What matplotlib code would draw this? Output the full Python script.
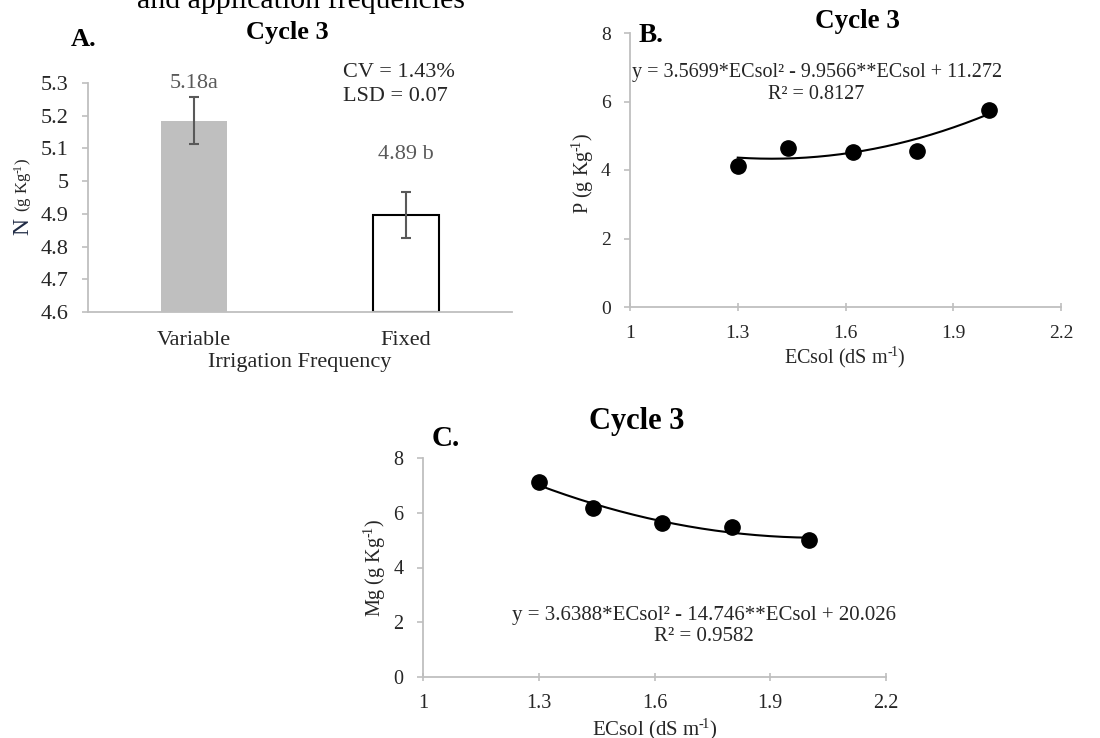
import numpy as np
import matplotlib
matplotlib.use("Agg")
import matplotlib.pyplot as plt
from matplotlib.ticker import FuncFormatter

plt.rcParams["font.family"] = ["Liberation Serif", "DejaVu Serif"]
plt.rcParams["mathtext.fontset"] = "custom"
plt.rcParams["mathtext.rm"] = "Liberation Serif"
plt.rcParams["mathtext.it"] = "Liberation Serif:italic"
plt.rcParams["mathtext.bf"] = "Liberation Serif:bold"

# panel A: N by irrigation frequency
freq_labels = ["Variable", "Fixed"]
n_means = [5.185, 4.896]
n_err = [0.072, 0.070]
n_letters = ["5.18a", "4.89 b"]

# panels B and C: P and Mg vs ECsol
ec_sol = [1.30, 1.44, 1.62, 1.80, 2.00]
p_vals = [4.13, 4.65, 4.54, 4.55, 5.75]
mg_vals = [7.11, 6.17, 5.63, 5.49, 5.01]
p_coef = [3.5699, -9.9566, 11.272]
mg_coef = [3.6388, -14.746, 20.026]

W, H = 1100, 738
AXIS_GRAY = "#BFBFBF"
TXT = "#262626"
SUP = "$^{\u2010\\!1}$"   # short hyphen superscript, as in the source figure
fig = plt.figure(figsize=(W / 100, H / 100), dpi=100)


def px(x, y):
    return x / W, 1 - y / H


def add_axes(l, t, r, b):
    return fig.add_axes([l / W, 1 - b / H, (r - l) / W, (b - t) / H])


def style_axes(ax, xdir="out"):
    for s in ("top", "right"):
        ax.spines[s].set_visible(False)
    for s in ("left", "bottom"):
        ax.spines[s].set_color(AXIS_GRAY)
        ax.spines[s].set_linewidth(1.3)
    ax.tick_params(axis="y", direction="out", color=AXIS_GRAY, length=4, width=1.2, labelcolor=TXT, pad=10)
    ax.tick_params(axis="x", direction=xdir, color=AXIS_GRAY, length=6, width=1.2, labelcolor=TXT)


gfmt = FuncFormatter(lambda v, p: f"{v:g}")

# partially cut caption line at the very top (cut in the source too)
fig.text(*px(137, 8), "and application frequencies", fontsize=21.5, va="baseline", ha="left", color="black")

# ---------------- A ----------------
axA = add_axes(88, 83, 512, 312)
xpos = np.arange(len(freq_labels))
axA.bar(xpos[0], n_means[0] - 4.6, bottom=4.6, width=0.31, color="#BFBFBF", edgecolor="none", zorder=2)
axA.bar(xpos[1], n_means[1] - 4.6, bottom=4.6, width=0.31, color="white", edgecolor="black", linewidth=1.5, zorder=2)
axA.errorbar(xpos, n_means, yerr=n_err, fmt="none", ecolor="#595959", elinewidth=1.5, capsize=3.5, capthick=1.5, zorder=3)
axA.set_xlim(-0.5, 1.5)
axA.set_ylim(4.6, 5.3)
axA.set_yticks(np.arange(4.6, 5.31, 0.1))
axA.yaxis.set_major_formatter(gfmt)
axA.set_xticks(xpos)
axA.set_xticklabels(freq_labels)
style_axes(axA)
axA.tick_params(axis="x", length=0, pad=14, labelsize=16)
axA.tick_params(axis="y", labelsize=16)
for i, (lab, off) in enumerate(zip(n_letters, [3, 20])):
    axA.annotate(lab, xy=(xpos[i], n_means[i] + n_err[i]), xytext=(0, off), textcoords="offset points",
                 ha="center", va="bottom", fontsize=16, color="#595959", annotation_clip=False)
axA.text(0.601, 1.048, "CV = 1.43%", transform=axA.transAxes, fontsize=16, va="center", ha="left", color=TXT)
axA.text(0.601, 0.939, "LSD = 0.07", transform=axA.transAxes, fontsize=16, va="center", ha="left", color=TXT)
fig.text(*px(300, 362), "Irrigation Frequency", fontsize=16, ha="center", va="center", color=TXT)
fig.text(*px(23, 227), "N", fontsize=17, rotation=90, ha="center", va="center", color="#1F2A44")
fig.text(*px(23, 185), "(g Kg" + SUP + ")", fontsize=12, rotation=90, ha="center", va="center", color=TXT)
fig.text(*px(287, 32), "Cycle 3", fontsize=19, fontweight="bold", ha="center", va="center")
fig.text(*px(84, 40), "A.", fontsize=19, fontweight="bold", ha="center", va="center")

# ---------------- B ----------------
axB = add_axes(630, 33, 1061, 307)
xs = np.linspace(min(ec_sol), max(ec_sol), 200)
axB.plot(xs, np.polyval(p_coef, xs), color="black", lw=1.5, zorder=2)
axB.plot(ec_sol, p_vals, "o", color="black", ms=11, zorder=3)
axB.set_xlim(1, 2.2)
axB.set_ylim(0, 8)
axB.set_xticks([1, 1.3, 1.6, 1.9, 2.2])
axB.set_yticks([0, 2, 4, 6, 8])
axB.xaxis.set_major_formatter(gfmt)
style_axes(axB, xdir="inout")
axB.tick_params(labelsize=14)
axB.tick_params(axis="x", pad=10)
axB.text(0.433, 0.855, "y = 3.5699*ECsol² - 9.9566**ECsol + 11.272", transform=axB.transAxes,
         fontsize=14.5, ha="center", va="center", color=TXT)
axB.text(0.433, 0.775, "R² = 0.8127", transform=axB.transAxes, fontsize=14.5, ha="center", va="center", color=TXT)
fig.text(*px(845, 357), "ECsol (dS m" + SUP + ")", fontsize=14.5, ha="center", va="center", color=TXT)
fig.text(*px(583, 173), "P (g Kg" + SUP + ")", fontsize=14.5, rotation=90, ha="center", va="center", color=TXT)
fig.text(*px(857, 22), "Cycle 3", fontsize=19.5, fontweight="bold", ha="center", va="center")
fig.text(*px(651, 35), "B.", fontsize=19.5, fontweight="bold", ha="center", va="center")

# ---------------- C ----------------
axC = add_axes(423, 458, 886, 677)
xs = np.linspace(min(ec_sol), max(ec_sol), 200)
axC.plot(xs, np.polyval(mg_coef, xs), color="black", lw=1.5, zorder=2)
axC.plot(ec_sol, mg_vals, "o", color="black", ms=11, zorder=3)
axC.set_xlim(1, 2.2)
axC.set_ylim(0, 8)
axC.set_xticks([1, 1.3, 1.6, 1.9, 2.2])
axC.set_yticks([0, 2, 4, 6, 8])
axC.xaxis.set_major_formatter(gfmt)
style_axes(axC, xdir="inout")
axC.tick_params(labelsize=14.5)
axC.tick_params(axis="x", pad=9)
axC.text(0.607, 0.28, "y = 3.6388*ECsol² - 14.746**ECsol + 20.026", transform=axC.transAxes,
         fontsize=15, ha="center", va="center", color=TXT)
axC.text(0.607, 0.183, "R² = 0.9582", transform=axC.transAxes, fontsize=15, ha="center", va="center", color=TXT)
fig.text(*px(655, 729), "ECsol (dS m" + SUP + ")", fontsize=15, ha="center", va="center", color=TXT)
fig.text(*px(375, 568), "Mg (g Kg" + SUP + ")", fontsize=14.5, rotation=90, ha="center", va="center", color=TXT)
fig.text(*px(637, 422), "Cycle 3", fontsize=22, fontweight="bold", ha="center", va="center")
fig.text(*px(446, 438), "C.", fontsize=21, fontweight="bold", ha="center", va="center")

fig.savefig("out.png", dpi=100)
